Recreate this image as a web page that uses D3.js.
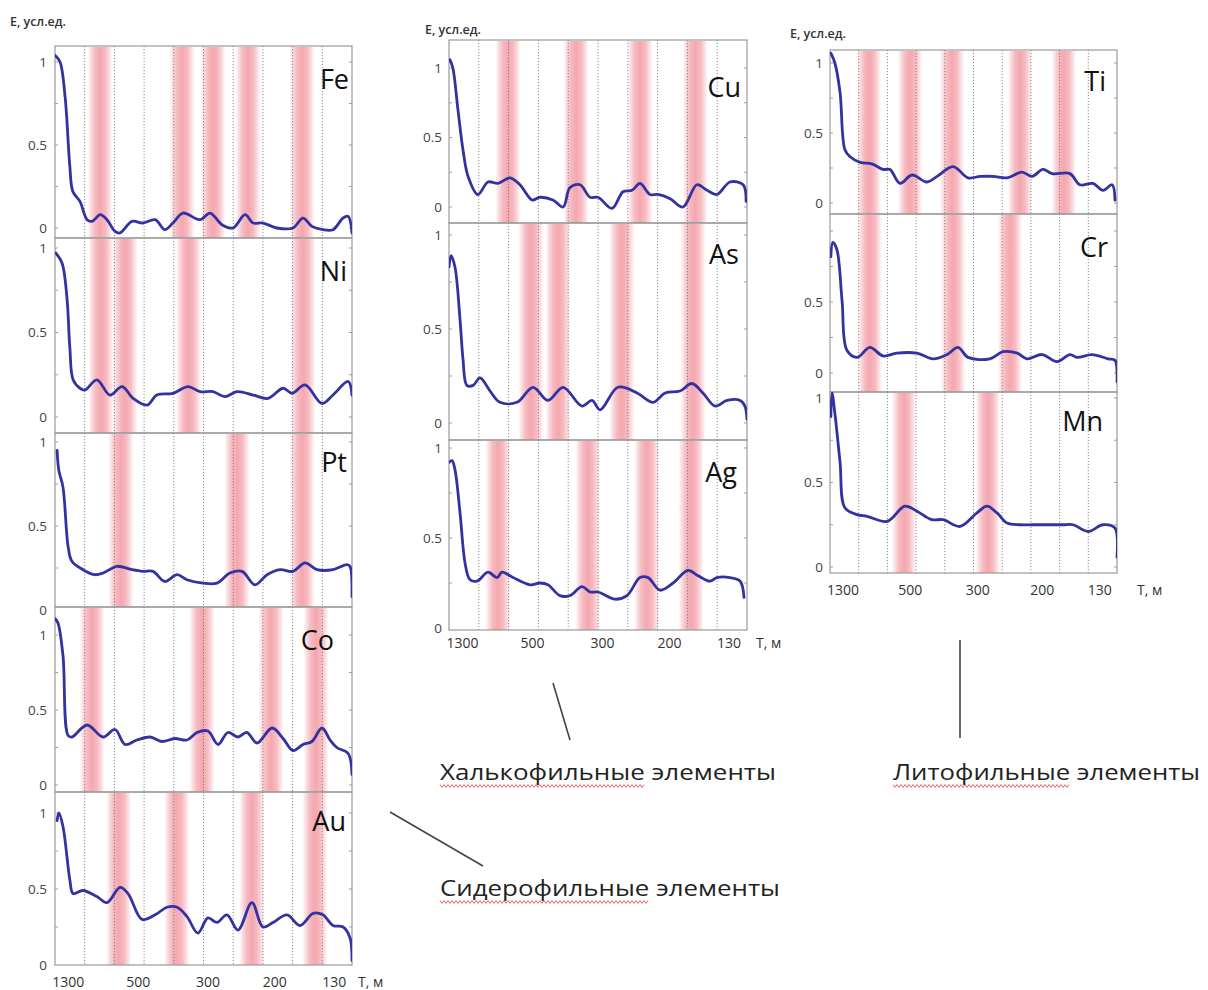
<!DOCTYPE html>
<html><head><meta charset="utf-8">
<script src="https://cdn.jsdelivr.net/npm/d3@7"></script>
<style>body{margin:0;background:#fff}svg{display:block}</style>
</head><body><svg id="c" width="1208" height="990"></svg>
<script>
// ---------------- DATA ----------------
const xTickLabels = ["1300", "500", "300", "200", "130"];
const xTickPos = [0.45, 2.8, 5.15, 7.4, 9.4];   // position in grid-interval units
const gridPos = [1, 2, 3, 4, 5, 6, 7, 8, 9];
const yTicksFull = [0, 0.5, 1];
const yTicksNoOne = [0, 0.5];
const yAxisTitle = "E, усл.ед.";
const xAxisTitle = "T, м";
const groupNames = ["Сидерофильные элементы", "Халькофильные элементы", "Литофильные элементы"];
const groupWavyWords = ["Сидерофильные", "Халькофильные", "Литофильные"];

// curves: [position (grid units 0..10), E]
const fe = [[0,1.04],[0.17,1.0],[0.34,0.79],[0.5,0.37],[0.6,0.22],[0.84,0.16],[1.08,0.05],[1.25,0.04],[1.52,0.08],[1.75,0.05],[2.02,-0.02],[2.19,-0.03],[2.59,0.04],[2.96,0.03],[3.37,0.05],[3.7,-0.01],[3.97,0.03],[4.31,0.09],[4.88,0.05],[5.22,0.09],[5.62,0.02],[5.99,0.0],[6.4,0.08],[6.67,0.03],[7.0,0.03],[7.47,0.0],[8.01,0.0],[8.35,0.06],[8.65,0.01],[9.02,-0.01],[9.36,-0.01],[9.7,0.06],[9.87,0.07],[10,-0.03]];
const ni = [[0.03,0.97],[0.24,0.91],[0.4,0.71],[0.5,0.41],[0.61,0.22],[0.84,0.17],[1.01,0.16],[1.41,0.22],[1.85,0.13],[2.26,0.18],[2.63,0.11],[3.1,0.07],[3.43,0.13],[3.97,0.14],[4.48,0.18],[4.88,0.15],[5.32,0.15],[5.72,0.12],[6.13,0.15],[6.67,0.13],[7.17,0.11],[7.68,0.17],[7.98,0.14],[8.42,0.19],[8.99,0.08],[9.36,0.13],[9.87,0.21],[10,0.13]];
const pt = [[0.07,0.95],[0.13,0.83],[0.27,0.73],[0.44,0.38],[0.57,0.29],[0.94,0.24],[1.35,0.21],[1.62,0.22],[2.09,0.26],[2.59,0.24],[2.96,0.23],[3.3,0.23],[3.7,0.17],[4.11,0.21],[4.44,0.18],[4.98,0.16],[5.45,0.16],[5.89,0.22],[6.3,0.23],[6.73,0.15],[7.14,0.21],[7.58,0.24],[8.01,0.23],[8.42,0.28],[8.82,0.24],[9.36,0.24],[9.83,0.27],[9.93,0.26],[10,0.08]];
const co = [[0,1.11],[0.1,1.08],[0.27,0.86],[0.44,0.33],[0.57,0.32],[1.08,0.4],[1.62,0.32],[2.02,0.37],[2.36,0.27],[2.76,0.3],[3.2,0.32],[3.6,0.29],[4.04,0.31],[4.44,0.3],[4.78,0.35],[5.15,0.36],[5.49,0.27],[5.82,0.35],[6.16,0.32],[6.46,0.35],[6.8,0.28],[7.31,0.38],[7.68,0.31],[8.01,0.23],[8.35,0.27],[8.65,0.29],[8.99,0.38],[9.26,0.3],[9.49,0.25],[9.87,0.21],[10,0.07]];
const au = [[0.07,0.95],[0.13,1.0],[0.27,0.91],[0.5,0.56],[0.61,0.47],[0.94,0.49],[1.41,0.45],[1.75,0.41],[2.19,0.51],[2.46,0.47],[2.93,0.3],[3.37,0.33],[3.77,0.38],[4.11,0.38],[4.44,0.32],[4.81,0.21],[5.15,0.31],[5.45,0.28],[5.79,0.33],[6.16,0.23],[6.63,0.41],[7.0,0.25],[7.34,0.28],[7.81,0.33],[8.25,0.26],[8.69,0.34],[9.02,0.33],[9.36,0.26],[9.7,0.25],[9.93,0.18],[10,0.03]];
const cu = [[0.03,1.06],[0.13,1.0],[0.3,0.7],[0.47,0.41],[0.64,0.22],[0.97,0.09],[1.31,0.18],[1.64,0.17],[2.05,0.21],[2.38,0.16],[2.79,0.05],[3.05,0.07],[3.49,0.05],[3.83,0.0],[4.06,0.14],[4.4,0.16],[4.73,0.07],[5.0,0.07],[5.47,-0.01],[5.84,0.11],[6.14,0.12],[6.41,0.17],[6.74,0.09],[7.01,0.09],[7.42,0.06],[7.85,0.0],[8.32,0.16],[8.66,0.12],[8.99,0.09],[9.43,0.18],[9.87,0.16],[9.97,0.04]];
const as = [[0,0.83],[0.07,0.89],[0.2,0.83],[0.37,0.55],[0.47,0.34],[0.6,0.2],[0.81,0.2],[1.04,0.24],[1.38,0.17],[1.71,0.11],[2.28,0.11],[2.82,0.19],[3.32,0.12],[3.83,0.19],[4.46,0.09],[4.8,0.12],[5.07,0.07],[5.67,0.19],[6.31,0.16],[6.85,0.11],[7.25,0.16],[7.75,0.17],[8.15,0.21],[8.52,0.16],[8.93,0.09],[9.33,0.12],[9.77,0.12],[9.93,0.09],[10,0.02]];
const ag = [[0,0.92],[0.1,0.93],[0.2,0.88],[0.37,0.64],[0.54,0.36],[0.7,0.27],[0.94,0.26],[1.31,0.31],[1.61,0.28],[1.78,0.31],[2.15,0.28],[2.72,0.24],[3.05,0.25],[3.32,0.24],[3.72,0.18],[4.06,0.18],[4.46,0.23],[4.73,0.2],[5.0,0.2],[5.57,0.16],[5.97,0.18],[6.41,0.28],[6.68,0.28],[7.08,0.21],[7.52,0.25],[8.02,0.32],[8.36,0.29],[8.76,0.26],[8.99,0.28],[9.43,0.28],[9.77,0.26],[9.9,0.17]];
const ti = [[0.03,1.07],[0.17,1.0],[0.35,0.79],[0.52,0.38],[0.7,0.33],[1.05,0.29],[1.46,0.28],[1.85,0.24],[2.09,0.24],[2.44,0.14],[2.86,0.2],[3.38,0.15],[3.73,0.19],[4.29,0.26],[4.81,0.18],[5.23,0.19],[5.68,0.19],[6.17,0.18],[6.69,0.22],[7.04,0.19],[7.42,0.24],[7.74,0.21],[8.36,0.21],[8.71,0.13],[9.16,0.14],[9.51,0.09],[9.83,0.13],[9.93,0.02]];
const cr = [[0.03,0.82],[0.1,0.92],[0.24,0.87],[0.42,0.51],[0.59,0.16],[0.94,0.11],[1.39,0.18],[1.85,0.12],[2.33,0.14],[3.03,0.14],[3.59,0.1],[4.08,0.13],[4.46,0.18],[4.81,0.11],[5.57,0.1],[6.03,0.15],[6.52,0.14],[6.86,0.1],[7.39,0.13],[7.91,0.08],[8.36,0.13],[8.61,0.11],[9.13,0.13],[9.69,0.1],[9.93,0.09],[10,-0.06]];
const mn = [[0.03,0.89],[0.07,1.03],[0.17,0.91],[0.35,0.62],[0.52,0.35],[0.94,0.31],[1.29,0.3],[1.99,0.27],[2.61,0.36],[3.03,0.33],[3.55,0.28],[3.94,0.28],[4.53,0.24],[5.12,0.32],[5.47,0.36],[5.82,0.32],[6.17,0.26],[6.62,0.25],[7.07,0.25],[7.56,0.25],[8.12,0.25],[8.47,0.25],[8.99,0.21],[9.51,0.25],[9.93,0.23],[10,0.06]];

// anomaly bands (centres, grid units)
const feBands = [1.52, 4.28, 5.32, 6.5, 8.32];
const niBands = [1.55, 2.36, 4.5, 8.35];
const ptBands = [2.22, 6.13, 8.32];
const coBands = [1.25, 4.95, 7.27, 8.79];
const auBands = [2.15, 4.1, 6.63, 8.75];
const cuBands = [1.98, 4.26, 6.41, 8.26];
const asBands = [2.75, 3.66, 5.8, 8.19];
const agBands = [1.64, 4.66, 6.64, 8.12];
const tiBands = [1.36, 2.79, 4.25, 6.62, 8.15];
const crBands = [1.39, 4.29, 6.27];
const mnBands = [2.58, 5.5];

// ---------------- LAYOUT ----------------
const cols = [
  {x0: 55, x1: 352, titleX: 10, titleY: 22, tickLabelY: 982, tTitleX: 358, labelRight: 47},
  {x0: 449, x1: 747, titleX: 425, titleY: 30, tickLabelY: 643, tTitleX: 756, labelRight: 442},
  {x0: 830, x1: 1117, titleX: 790, titleY: 34, tickLabelY: 590, tTitleX: 1137, labelRight: 823}
];
const panels = [
  {name:"Fe", data:fe, bands:feBands, col:0, top:46,  bottom:238, py0:228, py1:62,  ticks:yTicksFull, lx:349, ly:80},
  {name:"Ni", data:ni, bands:niBands, col:0, top:238, bottom:433, py0:417, py1:248, ticks:yTicksFull, lx:347, ly:272},
  {name:"Pt", data:pt, bands:ptBands, col:0, top:433, bottom:607, py0:610, py1:442, ticks:yTicksFull, lx:347, ly:463},
  {name:"Co", data:co, bands:coBands, col:0, top:607, bottom:792, py0:785, py1:635, ticks:yTicksFull, lx:334, ly:641},
  {name:"Au", data:au, bands:auBands, col:0, top:792, bottom:965, py0:965, py1:813, ticks:yTicksFull, lx:346, ly:822, last:true},
  {name:"Cu", data:cu, bands:cuBands, col:1, top:40,  bottom:223, py0:207, py1:68,  ticks:yTicksFull, lx:741, ly:88},
  {name:"As", data:as, bands:asBands, col:1, top:223, bottom:440, py0:423, py1:235, ticks:yTicksFull, lx:739, ly:255},
  {name:"Ag", data:ag, bands:agBands, col:1, top:440, bottom:630, py0:628, py1:448, ticks:yTicksFull, lx:737, ly:473, last:true},
  {name:"Ti", data:ti, bands:tiBands, col:2, top:50,  bottom:214, py0:203, py1:63,  ticks:yTicksFull, lx:1106, ly:82},
  {name:"Cr", data:cr, bands:crBands, col:2, top:214, bottom:392, py0:373, py1:231, ticks:yTicksNoOne, lx:1108, ly:248},
  {name:"Mn", data:mn, bands:mnBands, col:2, top:392, bottom:573, py0:567, py1:398, ticks:yTicksFull, lx:1103, ly:422, last:true}
];
const bandWidth = 0.85;
const FONT = "'Open Sans', 'DejaVu Sans', sans-serif";

const svg = d3.select("#c");
const defs = svg.append("defs");
const grad = defs.append("linearGradient").attr("id","band").attr("x1","0").attr("x2","1").attr("y1","0").attr("y2","0");
[[0,0],[0.15,0.3],[0.3,0.55],[0.5,0.68],[0.7,0.55],[0.85,0.3],[1,0]].forEach(([o,a]) =>
  grad.append("stop").attr("offset", o).attr("stop-color", "#ef7f8b").attr("stop-opacity", a));

panels.forEach((p, i) => {
  const c = cols[p.col];
  const x = d3.scaleLinear().domain([0, 10]).range([c.x0, c.x1]);
  const y = d3.scaleLinear().domain([0, 1]).range([p.py0, p.py1]);
  const g = svg.append("g");
  const clipId = "clip" + i;
  defs.append("clipPath").attr("id", clipId).append("rect")
    .attr("x", c.x0).attr("y", p.top).attr("width", c.x1 - c.x0).attr("height", p.bottom - p.top);

  // bands
  g.append("g").selectAll("rect").data(p.bands).join("rect")
    .attr("x", d => x(d - bandWidth / 2)).attr("width", x(bandWidth) - x(0))
    .attr("y", p.top + 1).attr("height", p.bottom - p.top - 1)
    .attr("fill", "url(#band)");

  // grid
  g.append("g").selectAll("line").data(gridPos).join("line")
    .attr("x1", d => x(d)).attr("x2", d => x(d)).attr("y1", p.top).attr("y2", p.bottom)
    .attr("stroke", "#6d6d6d").attr("stroke-width", 0.8).attr("stroke-dasharray", "1.2,1.8");

  // minor ticks on left/right edges
  const minor = d3.range(0, 1.01, 0.25).filter(v => y(v) > p.top + 2 && y(v) < p.bottom - 2);
  g.append("g").selectAll("line").data(minor).join("line")
    .attr("x1", c.x0).attr("x2", c.x0 + 3).attr("y1", d => y(d)).attr("y2", d => y(d))
    .attr("stroke", "#888").attr("stroke-width", 0.8);
  g.append("g").selectAll("line").data(minor).join("line")
    .attr("x1", c.x1).attr("x2", c.x1 - 3).attr("y1", d => y(d)).attr("y2", d => y(d))
    .attr("stroke", "#888").attr("stroke-width", 0.8);

  // frame
  g.append("rect").attr("x", c.x0).attr("y", p.top).attr("width", c.x1 - c.x0).attr("height", p.bottom - p.top)
    .attr("fill", "none").attr("stroke", "#9a9a9a").attr("stroke-width", 1.2);

  // curve
  const line = d3.line().x(d => x(d[0])).y(d => y(d[1])).curve(d3.curveCatmullRom.alpha(0.5));
  g.append("path").datum(p.data).attr("d", line).attr("clip-path", `url(#${clipId})`)
    .attr("fill", "none").attr("stroke", "#3232a0").attr("stroke-width", 2.8)
    .attr("stroke-linejoin", "round").attr("stroke-linecap", "round");

  // y tick labels
  g.append("g").selectAll("text").data(p.ticks).join("text")
    .attr("x", c.labelRight).attr("y", d => y(d)).attr("text-anchor", "end").attr("dy", "0.35em")
    .attr("font-family", FONT).attr("font-size", 13.5).attr("fill", "#444")
    .text(d => d3.format("~g")(d));

  // element label
  g.append("text").attr("x", p.lx).attr("y", p.ly).attr("dy", "0.35em").attr("text-anchor", "end")
    .attr("font-family", FONT).attr("font-size", 27).attr("fill", "#111").text(p.name);

  // bottom axis labels for the last panel of a column
  if (p.last) {
    g.append("g").selectAll("text").data(xTickPos).join("text")
      .attr("x", d => x(d)).attr("y", c.tickLabelY).attr("dy", "0.35em").attr("text-anchor", "middle")
      .attr("font-family", FONT).attr("font-size", 14).attr("fill", "#333")
      .text((d, k) => xTickLabels[k]);
    g.append("text").attr("x", c.tTitleX).attr("y", c.tickLabelY).attr("dy", "0.35em")
      .attr("font-family", FONT).attr("font-size", 14).attr("fill", "#333").text(xAxisTitle);
  }
});

// column titles
cols.forEach(c => {
  svg.append("text").attr("x", c.titleX).attr("y", c.titleY).attr("dy", "0.35em")
    .attr("font-family", FONT).attr("font-size", 12.5).attr("font-weight", 600).attr("fill", "#333").text(yAxisTitle);
});

// connector lines
const connectors = [[[553, 683], [570, 740]], [[960, 640], [960, 738]], [[390, 812], [483, 866]]];
svg.append("g").selectAll("line").data(connectors).join("line")
  .attr("x1", d => d[0][0]).attr("y1", d => d[0][1]).attr("x2", d => d[1][0]).attr("y2", d => d[1][1])
  .attr("stroke", "#444").attr("stroke-width", 1.6);

// group captions
const captionPos = [[440, 889, 340], [440, 773, 336], [893, 773, 307]];
groupNames.forEach((t, k) => {
  const [cx, cy, w] = captionPos[k];
  const txt = svg.append("text").attr("x", cx).attr("y", cy).attr("dy", "0.35em")
    .attr("font-family", FONT).attr("font-size", 21).attr("fill", "#222")
    .attr("textLength", w).attr("lengthAdjust", "spacingAndGlyphs").text(t);
  // wavy spell-check underline under the first word
  const probe = svg.append("text").attr("font-family", FONT).attr("font-size", 21);
  probe.text(t);
  const natural = probe.node().getComputedTextLength();
  probe.text(groupWavyWords[k]);
  const wordW = probe.node().getComputedTextLength() * (w / natural);
  probe.remove();
  const pts = [];
  for (let xx = 0, j = 0; xx <= wordW; xx += 2, j++) pts.push([cx + xx, cy + 13 + (j % 2 ? 1.4 : -1.4)]);
  svg.append("path").attr("d", d3.line()(pts)).attr("fill", "none").attr("stroke", "#d9534f").attr("stroke-width", 0.9);
});
</script></body></html>
